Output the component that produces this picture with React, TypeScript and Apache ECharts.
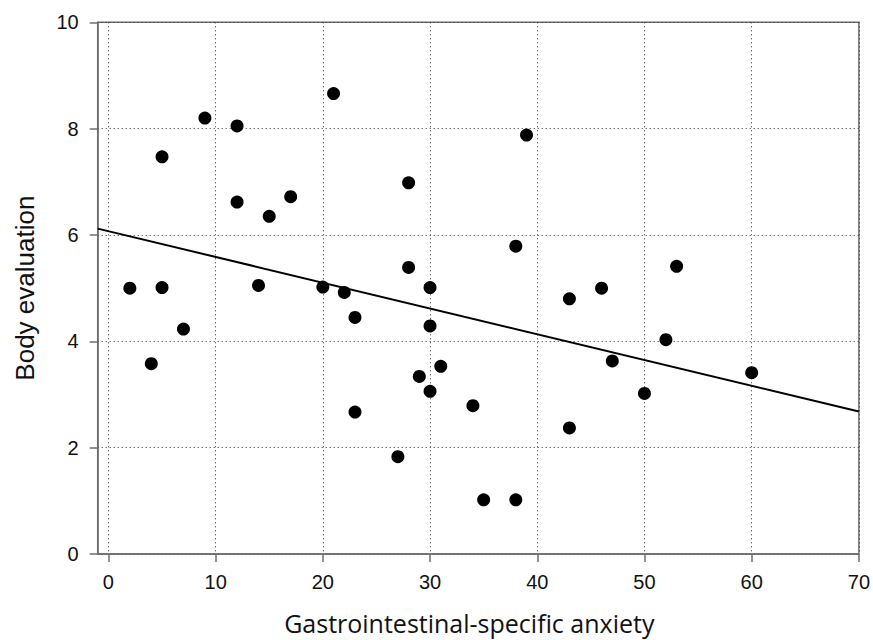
import React, { useEffect, useRef } from "react";
import * as echarts from "echarts";

const xTicks = [0, 10, 20, 30, 40, 50, 60, 70];
const yTicks = [0, 2, 4, 6, 8, 10];

const anxiety = [2, 4, 5, 5, 7, 9, 12, 12, 14, 15, 17, 20, 21, 22, 23, 23, 27, 28, 28, 29, 30, 30, 30, 31, 34, 35, 38, 38, 39, 43, 43, 46, 47, 50, 52, 53, 60];
const bodyEval = [5.0, 3.58, 7.47, 5.01, 4.23, 8.2, 8.05, 6.62, 5.05, 6.35, 6.72, 5.02, 8.66, 4.92, 4.45, 2.67, 1.83, 6.98, 5.39, 3.34, 5.01, 4.29, 3.06, 3.53, 2.79, 1.02, 1.02, 5.79, 7.88, 4.8, 2.37, 5.0, 3.63, 3.02, 4.03, 5.41, 3.41];

const fitX = [-1, 70];
const fitY = [6.12, 2.68];

export default function App() {
  const ref = useRef<HTMLDivElement>(null);
  useEffect(() => {
    document.body.style.margin = "0";
    if (!ref.current) return;
    const chart = echarts.init(ref.current, undefined, { renderer: "svg" });
    const frame = "#6e6e6e";
    chart.setOption({
      animation: false,
      backgroundColor: "#ffffff",
      grid: {
        left: 97.7,
        right: 13.3,
        top: 22.3,
        bottom: 83,
        show: true,
        borderColor: frame,
        borderWidth: 1.5,
      },
      xAxis: {
        type: "value",
        min: -1,
        max: 70,
        name: "Gastrointestinal-specific anxiety",
        nameLocation: "middle",
        nameGap: 56,
        nameTextStyle: { fontFamily: "Open Sans", fontSize: 25, color: "#111", padding: [0, 18, 0, 0] },
        axisLine: { show: true, onZero: false, lineStyle: { color: frame, width: 1.5 } },
        axisTick: { show: true, length: 8, customValues: xTicks, lineStyle: { color: frame, width: 1.5 } },
        axisLabel: { customValues: xTicks, margin: 18, fontFamily: "Liberation Sans", fontSize: 20, color: "#111" },
        splitLine: { show: true, lineStyle: { color: "#333", type: [1, 3], width: 1 } },
      },
      yAxis: {
        type: "value",
        min: 0,
        max: 10,
        interval: 2,
        name: "Body evaluation",
        nameLocation: "middle",
        nameGap: 60,
        nameTextStyle: { fontFamily: "Liberation Sans", fontSize: 26, color: "#111" },
        axisLine: { show: true, onZero: false, lineStyle: { color: frame, width: 1.5 } },
        axisTick: { show: true, length: 8, lineStyle: { color: frame, width: 1.5 } },
        axisLabel: { margin: 19, fontFamily: "Liberation Sans", fontSize: 20, color: "#111", formatter: (v: number) => (yTicks.includes(v) ? String(v) : "") },
        splitLine: { show: true, lineStyle: { color: "#333", type: [1, 3], width: 1 } },
      },
      series: [
        {
          type: "line",
          data: fitX.map((x, i) => [x, fitY[i]]),
          symbol: "none",
          lineStyle: { color: "#000", width: 2 },
          z: 2,
        },
        {
          type: "scatter",
          data: anxiety.map((x, i) => [x, bodyEval[i]]),
          symbolSize: 13,
          itemStyle: { color: "#000", opacity: 1 },
          z: 3,
        },
      ],
    });
    return () => chart.dispose();
  }, []);
  return <div ref={ref} style={{ position: "absolute", left: 0, top: 0, width: 873, height: 640 }} />;
}
